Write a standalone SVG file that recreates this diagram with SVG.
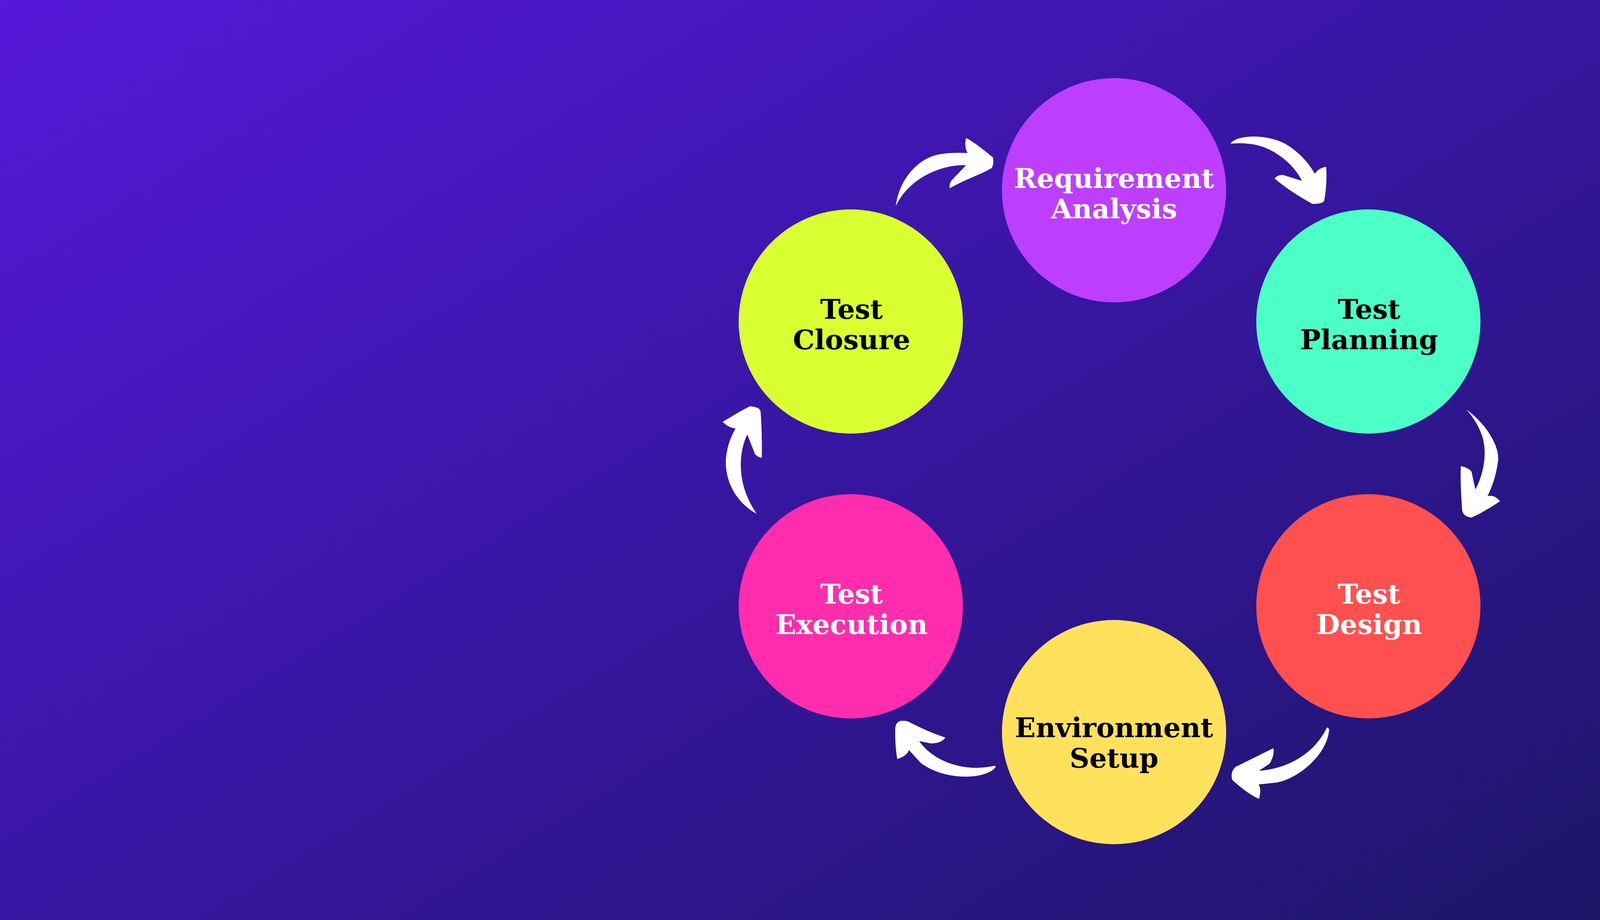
<svg xmlns="http://www.w3.org/2000/svg" width="5760" height="2355" viewBox="0 0 5760 2355">
  <defs>
    <linearGradient id="bg" gradientUnits="userSpaceOnUse" x1="0" y1="0" x2="2625" y2="4279">
      <stop offset="0" stop-color="#5618DA"/>
      <stop offset="0.4" stop-color="#3816A3"/>
      <stop offset="1" stop-color="#121550"/>
    </linearGradient>
  </defs>
  <style>
    .lbl { font-family: "DejaVu Serif", "Liberation Serif", serif; font-weight: bold; font-size: 70px; text-anchor: middle; }
    .light { fill: #FFFFFF; }
    .dark { fill: #000000; }
    .arrow { fill: #FFFFFF; stroke: none; }
  </style>
  <rect x="0" y="0" width="5760" height="2355" fill="url(#bg)"/>

  <g id="connectors">
    <path class="arrow" d="M2293,528 C2300,470 2340,410 2400,396 C2430,390 2460,391 2477,392 Q2468,375 2473,353 C2495,365 2520,385 2542,403 Q2545,418 2539,430 C2510,447 2470,460 2431,482 Q2430,470 2436,462 L2473,423 C2420,420 2330,450 2293,528 Z"/>
    <path class="arrow" d="M3150,368 C3165,345 3240,342 3290,368 C3320,385 3350,415 3366,445 Q3375,430 3395,427 Q3398,470 3390,513 Q3388,522 3360,522 C3320,500 3290,480 3263,457 Q3270,447 3285,448 L3333,463 C3315,425 3270,385 3220,372 C3195,366 3170,366 3150,368 Z"/>
    <path class="arrow" d="M3753,1048 C3800,1080 3840,1140 3835,1180 C3830,1220 3818,1250 3808,1270 Q3825,1265 3840,1283 C3815,1300 3790,1315 3767,1325 Q3745,1322 3743,1305 C3740,1260 3738,1220 3740,1193 Q3760,1198 3767,1207 L3777,1253 C3800,1210 3810,1150 3790,1105 C3780,1080 3765,1060 3753,1048 Z"/>
    <path class="arrow" d="M3397,1862 Q3405,1865 3402,1873 C3395,1930 3330,1990 3270,2003 L3222,2008 Q3230,2020 3223,2045 C3200,2035 3175,2015 3155,1997 Q3148,1978 3163,1963 C3200,1945 3230,1930 3260,1915 Q3263,1935 3250,1955 L3223,1973 C3280,1970 3360,1940 3397,1862 Z"/>
    <path class="arrow" d="M2547,1960 Q2550,1963 2547,1966 C2520,1995 2420,2000 2357,1953 L2327,1920 Q2322,1935 2297,1943 C2293,1920 2291,1890 2292,1862 Q2295,1845 2310,1845 Q2320,1845 2327,1848 C2360,1865 2390,1878 2420,1888 Q2410,1903 2383,1903 L2353,1897 C2390,1950 2470,1978 2547,1960 Z"/>
    <path class="arrow" d="M1937,1315 C1880,1285 1850,1220 1860,1160 Q1866,1125 1883,1097 Q1865,1095 1850,1080 C1870,1068 1895,1052 1920,1040 Q1945,1042 1947,1053 C1950,1090 1951,1135 1950,1172 Q1940,1170 1933,1163 L1913,1112 C1890,1160 1885,1240 1937,1315 Z"/>
  </g>

  <g id="node-requirement-analysis">
    <circle cx="2852" cy="487" r="287" fill="#BE3EFF"/>
    <text class="lbl light" x="2852" y="481">Requirement</text>
    <text class="lbl light" x="2852" y="559">Analysis</text>
  </g>
  <g id="node-test-planning">
    <circle cx="3503" cy="823" r="287" fill="#4CFFC6"/>
    <text class="lbl dark" x="3505" y="816">Test</text>
    <text class="lbl dark" x="3505" y="894">Planning</text>
  </g>
  <g id="node-test-design">
    <circle cx="3503" cy="1552" r="287" fill="#FF5050"/>
    <text class="lbl light" x="3505" y="1545">Test</text>
    <text class="lbl light" x="3505" y="1623">Design</text>
  </g>
  <g id="node-environment-setup">
    <circle cx="2852" cy="1874" r="287" fill="#FFE15C"/>
    <text class="lbl dark" x="2852" y="1887">Environment</text>
    <text class="lbl dark" x="2852" y="1965">Setup</text>
  </g>
  <g id="node-test-execution">
    <circle cx="2178" cy="1552" r="287" fill="#FF2DAD"/>
    <text class="lbl light" x="2180" y="1545">Test</text>
    <text class="lbl light" x="2180" y="1623">Execution</text>
  </g>
  <g id="node-test-closure">
    <circle cx="2178" cy="823" r="287" fill="#D9FF30"/>
    <text class="lbl dark" x="2180" y="816">Test</text>
    <text class="lbl dark" x="2180" y="894">Closure</text>
  </g>
</svg>
